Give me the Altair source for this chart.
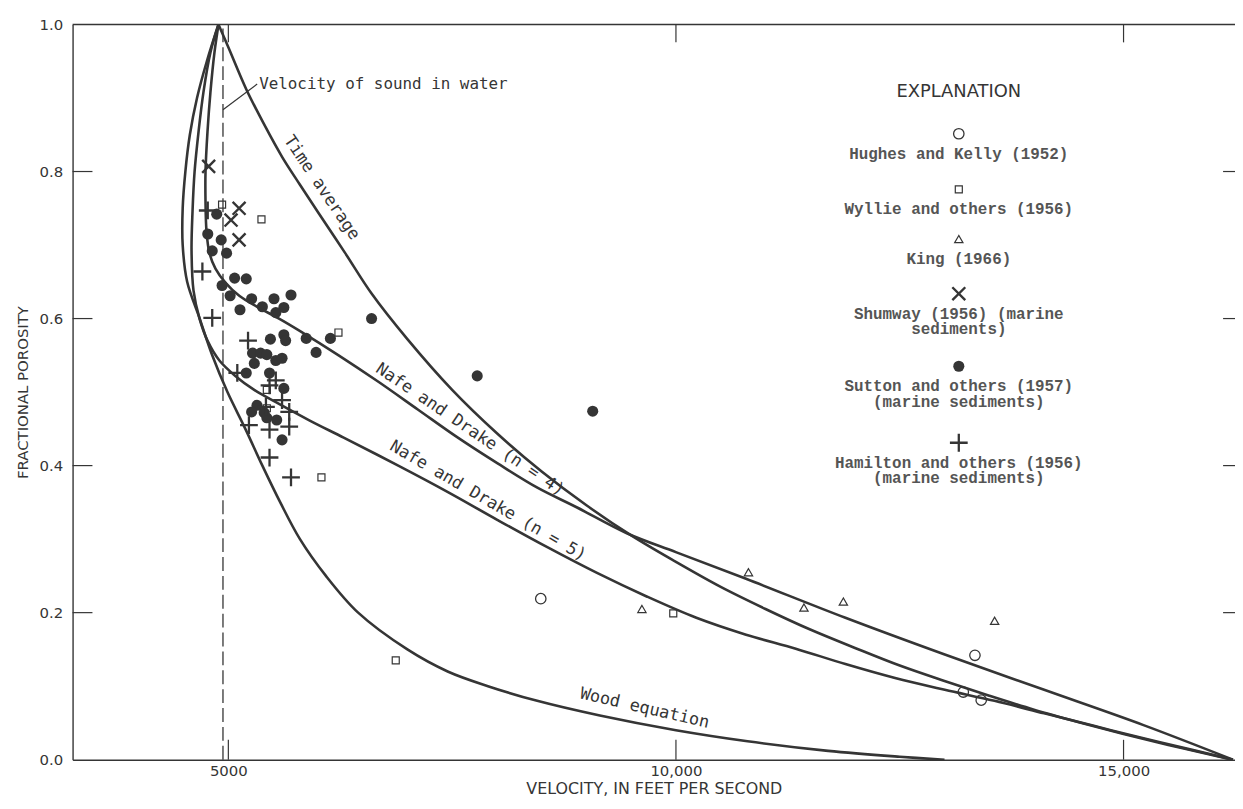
import altair as alt
import pandas as pd

# ---------------- data ----------------
# Theoretical curves: velocity (ft/s) vs fractional porosity
TIME_AVG_V = [4890, 5000, 5200, 5400, 5600, 5800, 6000, 6300, 6600, 7000, 7500, 8000, 8500, 9000,
              9500, 10000, 10500, 11000, 11500, 12000, 12500, 13000, 13500, 14000, 14500, 15000,
              15500, 16000, 16220]
TIME_AVG_P = [1.0, 0.969, 0.912, 0.864, 0.820, 0.782, 0.745, 0.690, 0.634, 0.572, 0.503, 0.444, 0.392,
              0.346, 0.305, 0.269, 0.235, 0.205, 0.177, 0.152, 0.128, 0.107, 0.087, 0.068, 0.051,
              0.035, 0.020, 0.006, 0.0]

ND4_V = [4890, 4845, 4800, 4767, 4745, 4745, 4756, 4789, 4856, 4967, 5122, 5322, 5566, 5788, 6232,
         6676, 7120, 7564, 8008, 8452, 8896, 9451, 10006, 10783, 11893, 13003, 14113, 15223, 16222]
ND4_P = [1.0, 0.962, 0.908, 0.854, 0.800, 0.759, 0.719, 0.689, 0.668, 0.649, 0.631, 0.616, 0.600,
         0.584, 0.550, 0.514, 0.476, 0.438, 0.403, 0.370, 0.343, 0.308, 0.282, 0.246, 0.193, 0.143,
         0.095, 0.047, 0.0]

ND5_V = [4890, 4800, 4722, 4667, 4623, 4600, 4589, 4611, 4678, 4767, 4900, 5078, 5289, 5566, 5899,
         6288, 6898, 7453, 8008, 8563, 9118, 9673, 10228, 10783, 11338, 11893, 12448, 13003, 13558,
         14113, 14668, 15223, 15778, 16222]
ND5_P = [1.0, 0.962, 0.908, 0.854, 0.800, 0.746, 0.692, 0.638, 0.600, 0.570, 0.543, 0.522, 0.503,
         0.484, 0.462, 0.438, 0.400, 0.364, 0.326, 0.289, 0.254, 0.222, 0.193, 0.170, 0.151, 0.130,
         0.111, 0.095, 0.080, 0.063, 0.046, 0.029, 0.013, 0.0]

WOOD_V = [4890, 4760, 4650, 4570, 4520, 4490, 4490, 4540, 4680, 4820, 4990, 5190, 5380, 5580, 5800,
          6090, 6450, 7000, 7450, 7900, 8450, 9150, 10000, 10800, 11700, 12500, 13000]
WOOD_P = [1.0, 0.95, 0.9, 0.85, 0.8, 0.75, 0.7, 0.65, 0.6, 0.55, 0.5, 0.45, 0.4, 0.35, 0.3, 0.25,
          0.2, 0.15, 0.12, 0.1, 0.08, 0.06, 0.04, 0.025, 0.012, 0.004, 0.0]

# Measurements
HUGHES_V = [8490, 13340, 13210, 13410]
HUGHES_P = [0.219, 0.142, 0.092, 0.081]
WYLLIE_V = [4930, 5370, 6230, 6040, 6870, 9970, 5430, 5430]
WYLLIE_P = [0.755, 0.735, 0.581, 0.384, 0.135, 0.199, 0.503, 0.478]
KING_V = [9620, 10810, 11430, 11870, 13560]
KING_P = [0.205, 0.255, 0.207, 0.215, 0.189]
SHUMWAY_V = [4780, 5120, 5030, 5120]
SHUMWAY_P = [0.807, 0.750, 0.734, 0.707]
SUTTON_V = [4870, 4770, 4920, 4820, 4980, 5070, 5200, 4930, 5020, 5260, 5510, 5700, 5380, 5130,
            5620, 5530, 6600, 5470, 5620, 5640, 5870, 6140, 5980, 5270, 5360, 5430, 5530, 5600,
            5290, 5460, 5200, 5620, 5320, 5260, 5400, 5430, 5540, 5600, 7780, 9070]
SUTTON_P = [0.742, 0.715, 0.707, 0.692, 0.689, 0.655, 0.654, 0.645, 0.631, 0.627, 0.627, 0.632, 0.616,
            0.612, 0.615, 0.608, 0.600, 0.572, 0.578, 0.570, 0.573, 0.573, 0.554, 0.553, 0.553, 0.551,
            0.543, 0.546, 0.539, 0.526, 0.526, 0.505, 0.482, 0.473, 0.472, 0.465, 0.462, 0.435, 0.522,
            0.474]
HAMILTON_V = [4770, 4710, 4820, 5220, 5100, 5460, 5530, 5600, 5420, 5680, 5230, 5460, 5680, 5460, 5700]
HAMILTON_P = [0.747, 0.664, 0.601, 0.570, 0.526, 0.509, 0.516, 0.489, 0.480, 0.473, 0.455, 0.449,
              0.453, 0.411, 0.384]

WATER_V = 4940
X_TICKS = [5000, 10000, 15000]
Y_TICKS = [0.0, 0.2, 0.4, 0.6, 0.8, 1.0]
INNER_Y_TICKS = [0.2, 0.4, 0.6, 0.8]
X_DOMAIN = [3260, 16245]

CURVE_LABELS = ["Time average", "Nafe and Drake (n = 4)", "Nafe and Drake (n = 5)", "Wood equation"]
WATER_LABEL = "Velocity of sound in water"
LEGEND_TITLE = "EXPLANATION"
LEGEND_LABELS = ["Hughes and Kelly (1952)", "Wyllie and others (1956)", "King (1966)",
                 "Shumway (1956) (marine\nsediments)", "Sutton and others (1957)\n(marine sediments)",
                 "Hamilton and others (1956)\n(marine sediments)"]

# ---------------- styling ----------------
INK = "#353535"
SANS = "DejaVu Sans"
WIDE = "DejaVu Sans Mono"
MONO = "Liberation Mono"
X_PATH = "M-1,-1L1,1M-1,1L1,-1"
PLUS_PATH = "M-1,0L1,0M0,-1L0,1"

XS = alt.Scale(domain=X_DOMAIN, nice=False, zero=False)
YS = alt.Scale(domain=[0, 1], nice=False, zero=False)
XT = "VELOCITY, IN FEET PER SECOND"
YT = "FRACTIONAL POROSITY"
AXX = alt.Axis(values=X_TICKS,
               labelExpr="datum.value == 5000 ? '5000' : format(datum.value, ',')",
               ticks=False, tickSize=0, grid=False, domainColor=INK, domainWidth=1.4,
               labelFont=SANS, labelFontSize=15, labelColor=INK, labelPadding=4,
               titleFont=SANS, titleFontSize=16, titleFontWeight="normal", titleColor=INK,
               titleY=34, titleBaseline="alphabetic")
AXY = alt.Axis(values=Y_TICKS, format=".1f", ticks=False, tickSize=0, grid=False,
               domainColor=INK, domainWidth=1.4, labelFlush=False,
               labelFont=SANS, labelFontSize=15, labelColor=INK, labelPadding=10,
               titleFont=SANS, titleFontSize=15, titleFontWeight="normal", titleColor=INK,
               titlePadding=9)

ONE = pd.DataFrame({"k": [0]})


def X(f):
    return alt.X(f, scale=XS, axis=AXX, title=XT)


def Y(f):
    return alt.Y(f, scale=YS, axis=AXY, title=YT)


def XD(v):
    return alt.XDatum(v, scale=XS, axis=AXX, title=XT)


def YD(v):
    return alt.YDatum(v, scale=YS, axis=AXY, title=YT)


layers = []

# curves
frames = []
for name, v, p in [("ta", TIME_AVG_V, TIME_AVG_P), ("n4", ND4_V, ND4_P),
                   ("n5", ND5_V, ND5_P), ("wood", WOOD_V, WOOD_P)]:
    frames.append(pd.DataFrame({"v": v, "p": p, "i": list(range(len(v))), "curve": name}))
curves_df = pd.concat(frames, ignore_index=True)
layers.append(alt.Chart(curves_df).mark_line(interpolate="catmull-rom", strokeWidth=2.6, color=INK)
              .encode(x=X("v:Q"), y=Y("p:Q"), detail="curve:N", order="i:Q"))

# frame: top border and inward ticks
layers.append(alt.Chart(ONE).mark_rule(color=INK, strokeWidth=1.4)
              .encode(x=XD(X_DOMAIN[0]), x2=alt.X2Datum(X_DOMAIN[1]), y=YD(1.0)))
ytk = pd.DataFrame({"p": INNER_Y_TICKS})
xtk = pd.DataFrame({"v": X_TICKS})
layers.append(alt.Chart(ytk).mark_tick(orient="horizontal", size=20, thickness=1.2, xOffset=10,
                                       color=INK, opacity=1)
              .encode(x=XD(X_DOMAIN[0]), y=Y("p:Q")))
layers.append(alt.Chart(ytk).mark_tick(orient="horizontal", size=12, thickness=1.2, xOffset=-6,
                                       color=INK, opacity=1)
              .encode(x=XD(X_DOMAIN[1]), y=Y("p:Q")))
layers.append(alt.Chart(xtk).mark_tick(orient="vertical", size=20, thickness=1.2, yOffset=-10,
                                       color=INK, opacity=1)
              .encode(x=X("v:Q"), y=YD(0.0)))
layers.append(alt.Chart(xtk).mark_tick(orient="vertical", size=18, thickness=1.2, yOffset=9,
                                       color=INK, opacity=1)
              .encode(x=X("v:Q"), y=YD(1.0)))

# velocity of sound in water
layers.append(alt.Chart(ONE).mark_rule(color=INK, strokeWidth=1.3, strokeDash=[14, 5])
              .encode(x=XD(WATER_V), y=YD(0.0), y2=alt.Y2Datum(1.0)))
layers.append(alt.Chart(ONE).mark_rule(color=INK, strokeWidth=1.2)
              .encode(x=XD(5322), x2=alt.X2Datum(WATER_V), y=YD(0.919), y2=alt.Y2Datum(0.884)))
layers.append(alt.Chart(ONE).mark_text(align="left", baseline="middle", font=WIDE, fontSize=16,
                                       color=INK)
              .encode(x=XD(5344), y=YD(0.919), text=alt.value(WATER_LABEL)))

# curve labels
for label, v, p, ang in [(CURVE_LABELS[0], 6043, 0.778, 56), (CURVE_LABELS[1], 7700, 0.449, 34),
                         (CURVE_LABELS[2], 7900, 0.352, 30), (CURVE_LABELS[3], 9650, 0.070, 13)]:
    layers.append(alt.Chart(ONE).mark_text(align="center", baseline="middle", font=WIDE,
                                           fontSize=17, color=INK, angle=ang)
                  .encode(x=XD(v), y=YD(p), text=alt.value(label)))

# measured points
STYLES = [
    dict(shape="circle", filled=False, size=110, strokeWidth=1.3),
    dict(shape="square", filled=False, size=50, strokeWidth=1.2),
    dict(shape="triangle-up", filled=False, size=70, strokeWidth=1.2),
    dict(shape=X_PATH, filled=False, size=169, strokeWidth=2.4),
    dict(shape="circle", filled=True, size=125, strokeWidth=0),
    dict(shape=PLUS_PATH, filled=False, size=320, strokeWidth=2.3),
]
SERIES = [(HUGHES_V, HUGHES_P), (WYLLIE_V, WYLLIE_P), (KING_V, KING_P), (SHUMWAY_V, SHUMWAY_P),
          (SUTTON_V, SUTTON_P), (HAMILTON_V, HAMILTON_P)]
for (v, p), st in zip(SERIES, STYLES):
    df = pd.DataFrame({"v": v, "p": p})
    layers.append(alt.Chart(df).mark_point(color=INK, opacity=1, **st)
                  .encode(x=X("v:Q"), y=Y("p:Q")))

# explanation block (pixel layout)
LEG_X = 892
LEG_SYM_Y = [110, 166, 216, 271, 344, 421]
layers.append(alt.Chart(ONE).mark_text(align="center", baseline="middle", font=SANS, fontSize=18,
                                       color=INK)
              .encode(x=alt.value(LEG_X), y=alt.value(68), text=alt.value(LEGEND_TITLE)))
for lab, sy, st in zip(LEGEND_LABELS, LEG_SYM_Y, STYLES):
    layers.append(alt.Chart(ONE).mark_point(color=INK, opacity=1, **st)
                  .encode(x=alt.value(LEG_X), y=alt.value(sy)))
    layers.append(alt.Chart(ONE).mark_text(align="center", baseline="middle", font=MONO,
                                           fontSize=16, fontWeight="bold", color="#555555",
                                           lineBreak="\n", lineHeight=16)
                  .encode(x=alt.value(LEG_X), y=alt.value(sy + 20), text=alt.value(lab)))

chart = alt.layer(*layers).properties(
    width=1170, height=740,
    autosize=alt.AutoSizeParams(type="none"),
    padding={"left": 65, "top": 14, "right": 0, "bottom": 39},
).configure_view(stroke=None)

chart.save("out.html", embed_options={"renderer": "svg", "actions": False})
